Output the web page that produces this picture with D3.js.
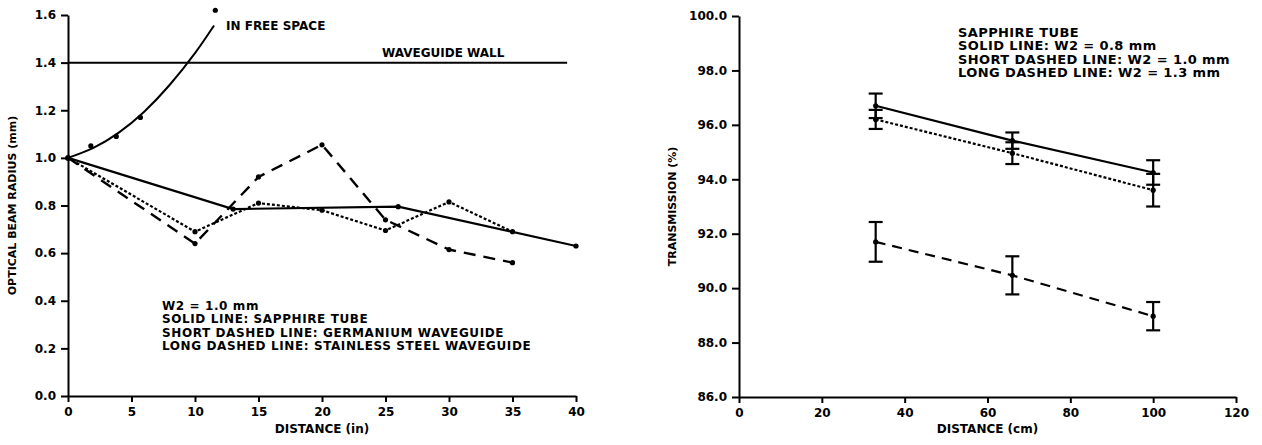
<!DOCTYPE html>
<html>
<head>
<meta charset="utf-8">
<script src="https://cdn.jsdelivr.net/npm/d3@7"></script>
<style>
	body { margin: 0; background: #ffffff; }
	svg text { font-family: "DejaVu Sans", Arial, sans-serif; font-weight: bold; fill: #000; }
</style>
</head>
<body>
<div id="chart"></div>
<script>

// ---- left panel: optical beam radius vs distance (in) ----
var leftXTicks = [0, 5, 10, 15, 20, 25, 30, 35, 40];
var leftYTicks = [0.0, 0.2, 0.4, 0.6, 0.8, 1.0, 1.2, 1.4, 1.6];

// fitted curve in free space and the measured points on it
var freeCurveX = [0, 2, 4, 6, 8, 10, 11.5];
var freeCurveY = [1.0, 1.042, 1.106, 1.194, 1.306, 1.44, 1.556];
var freePointsX = [1.8, 3.8, 5.7, 11.6];
var freePointsY = [1.05, 1.09, 1.17, 1.62];

var wallY = 1.4;
var wallX = [0, 39.3];

var sapphireX = [0, 13, 26, 40];
var sapphireY = [1.0, 0.785, 0.795, 0.63];
var germaniumX = [0, 10, 15, 20, 25, 30, 35];
var germaniumY = [1.0, 0.69, 0.81, 0.78, 0.695, 0.815, 0.69];
var steelX = [0, 10, 15, 20, 25, 30, 35];
var steelY = [1.0, 0.64, 0.92, 1.055, 0.74, 0.615, 0.56];

var leftLegend = ["W2 = 1.0 mm", "SOLID LINE: SAPPHIRE TUBE",
	"SHORT DASHED LINE: GERMANIUM WAVEGUIDE", "LONG DASHED LINE: STAINLESS STEEL WAVEGUIDE"];

// ---- right panel: transmission vs distance (cm) ----
var rightXTicks = [0, 20, 40, 60, 80, 100, 120];
var rightYTicks = [86, 88, 90, 92, 94, 96, 98, 100];

var distCm = [33, 66, 100];
var solid08 = [96.7, 95.42, 94.25];
var solid08Err = [0.45, 0.3, 0.45];
var short10 = [96.2, 94.96, 93.6];
var short10Err = [0.35, 0.4, 0.6];
var long13 = [91.7, 90.47, 88.97];
var long13Err = [0.73, 0.7, 0.52];

var rightLegend = ["SAPPHIRE TUBE", "SOLID LINE: W2 = 0.8 mm",
	"SHORT DASHED LINE: W2 = 1.0 mm", "LONG DASHED LINE: W2 = 1.3 mm"];

var svg = d3.select("#chart")
	.append("svg")
	.attr("width", 1262)
	.attr("height", 445);

svg.append("rect").attr("width", 1262).attr("height", 445).attr("fill", "#ffffff");

//zip two arrays into points
function pts(xs, ys){
	return xs.map(function(x, i){ return [x, ys[i]]; });
}

//draws one axis pair with the old plotter look
function drawAxes(x, y, xTicks, yTicks, yFormat, xTitle, yTitle, yTitleX){
	var gx = svg.append("g")
		.attr("transform", "translate(0," + y.range()[0] + ")")
		.call(d3.axisBottom(x).tickValues(xTicks).tickSize(6).tickSizeOuter(0).tickPadding(5));
	var gy = svg.append("g")
		.attr("transform", "translate(" + x.range()[0] + ",0)")
		.call(d3.axisLeft(y).tickValues(yTicks).tickFormat(yFormat).tickSize(7).tickSizeOuter(0).tickPadding(5));

	[gx, gy].forEach(function(g){
		g.select(".domain").attr("stroke", "#000").attr("stroke-width", 2);
		g.selectAll(".tick line").attr("stroke", "#000").attr("stroke-width", 2);
		g.selectAll(".tick text")
			.style("font-family", "DejaVu Sans, Arial, sans-serif")
			.style("font-weight", "bold")
			.style("font-size", "12px")
			.attr("fill", "#000");
	});

	svg.append("text")
		.attr("x", x(xTicks[Math.floor(xTicks.length / 2)]))
		.attr("y", 433)
		.attr("text-anchor", "middle")
		.style("font-size", "12px")
		.text(xTitle);

	var yMid = (y.range()[0] + y.range()[1]) / 2;
	svg.append("text")
		.attr("transform", "translate(" + yTitleX + "," + yMid + ") rotate(-90)")
		.attr("text-anchor", "middle")
		.style("font-size", "11px")
		.text(yTitle);
}

//draws a line through points
function drawLine(x, y, data, dash, width, curve){
	var line = d3.line()
		.x(function(d){ return x(d[0]); })
		.y(function(d){ return y(d[1]); })
		.curve(curve || d3.curveLinear);
	svg.append("path")
		.datum(data)
		.attr("d", line)
		.attr("fill", "none")
		.attr("stroke", "#000")
		.attr("stroke-width", width)
		.attr("stroke-dasharray", dash);
}

function drawDots(x, y, data){
	svg.append("g")
		.selectAll("circle")
		.data(data)
		.enter()
		.append("circle")
		.attr("cx", function(d){ return x(d[0]); })
		.attr("cy", function(d){ return y(d[1]); })
		.attr("r", 2.6)
		.attr("fill", "#000");
}

function drawLegend(lines, x0, y0, size, spacing){
	svg.append("g")
		.selectAll("text")
		.data(lines)
		.enter()
		.append("text")
		.attr("x", x0)
		.attr("y", function(d, i){ return y0 + i * 13.4; })
		.style("font-size", size + "px")
		.style("letter-spacing", spacing + "px")
		.text(function(d){ return d; });
}

// ---------- left chart ----------
var xL = d3.scaleLinear().domain([0, 40]).range([68, 576]);
var yL = d3.scaleLinear().domain([0, 1.6]).range([396, 15]);

drawAxes(xL, yL, leftXTicks, leftYTicks, d3.format(".1f"), "DISTANCE (in)", "OPTICAL BEAM RADIUS (mm)", 16);

//waveguide wall
drawLine(xL, yL, [[wallX[0], wallY], [wallX[1], wallY]], null, 2);

//free space curve
drawLine(xL, yL, pts(freeCurveX, freeCurveY), null, 2, d3.curveNatural);
drawDots(xL, yL, pts(freePointsX, freePointsY));

drawLine(xL, yL, pts(sapphireX, sapphireY), null, 2.2);
drawLine(xL, yL, pts(germaniumX, germaniumY), "3,2", 2.2);
drawLine(xL, yL, pts(steelX, steelY), "12,8", 2.4);
drawDots(xL, yL, pts(sapphireX, sapphireY));
drawDots(xL, yL, pts(germaniumX, germaniumY));
drawDots(xL, yL, pts(steelX, steelY));

svg.append("text").attr("x", 226).attr("y", 30).style("font-size", "12px").text("IN FREE SPACE");
svg.append("text").attr("x", 382).attr("y", 57).style("font-size", "12px").text("WAVEGUIDE WALL");

drawLegend(leftLegend, 162, 310, 12, 0.6);

// ---------- right chart ----------
var xR = d3.scaleLinear().domain([0, 120]).range([739, 1236]);
var yR = d3.scaleLinear().domain([86, 100]).range([397, 16]);

drawAxes(xR, yR, rightXTicks, rightYTicks, d3.format(".1f"), "DISTANCE (cm)", "TRANSMISSION (%)", 676);

var series = [
	{ y: solid08, err: solid08Err, dash: null },
	{ y: short10, err: short10Err, dash: "3,2" },
	{ y: long13, err: long13Err, dash: "10,7" }
];

series.forEach(function(s){
	drawLine(xR, yR, pts(distCm, s.y), s.dash, 2.2);
	drawDots(xR, yR, pts(distCm, s.y));

	//error bars with caps
	var bars = svg.append("g")
		.selectAll("g")
		.data(distCm.map(function(d, i){ return { x: d, y: s.y[i], e: s.err[i] }; }))
		.enter()
		.append("g")
		.attr("stroke", "#000")
		.attr("stroke-width", 2.2);
	bars.append("line")
		.attr("x1", function(d){ return xR(d.x); })
		.attr("x2", function(d){ return xR(d.x); })
		.attr("y1", function(d){ return yR(d.y + d.e); })
		.attr("y2", function(d){ return yR(d.y - d.e); });
	[1, -1].forEach(function(sign){
		bars.append("line")
			.attr("x1", function(d){ return xR(d.x) - 7; })
			.attr("x2", function(d){ return xR(d.x) + 7; })
			.attr("y1", function(d){ return yR(d.y + sign * d.e); })
			.attr("y2", function(d){ return yR(d.y + sign * d.e); });
	});
});

drawLegend(rightLegend, 958, 37, 13, 0.4);

</script>
</body>
</html>
